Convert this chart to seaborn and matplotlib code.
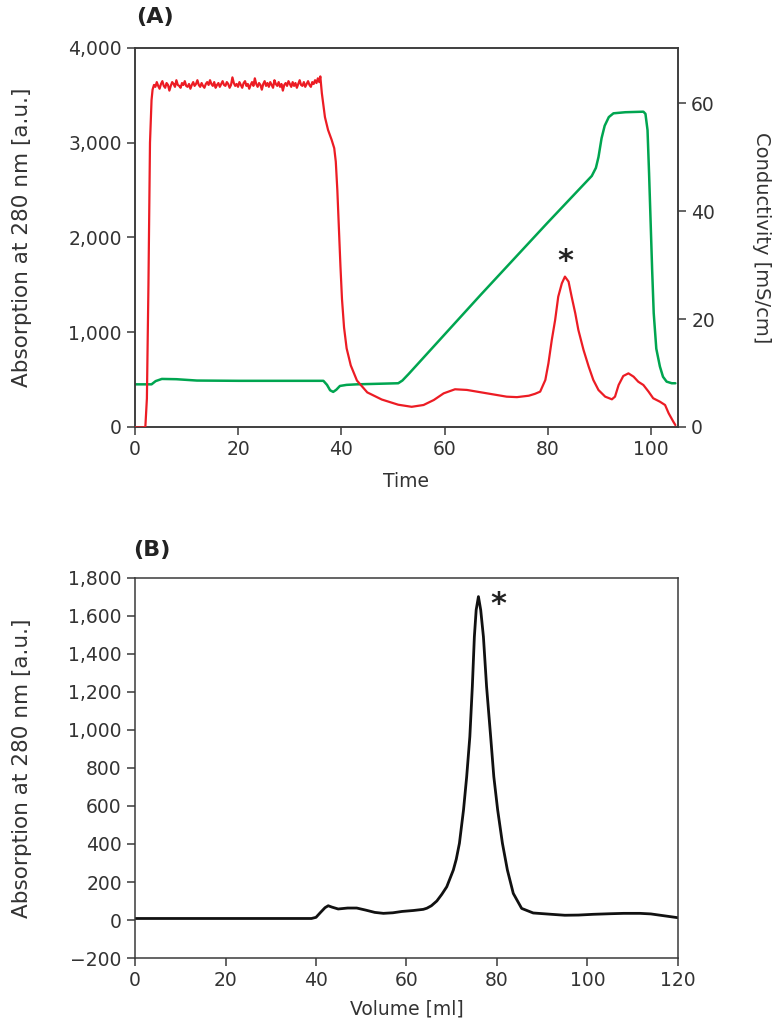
import numpy as np
import pandas as pd
import matplotlib
matplotlib.use("Agg")
import matplotlib.pyplot as plt
import seaborn as sns

# ---------------- Data: panel A ----------------
# Absorption at 280 nm (red)
abs_time_start = [0.0, 1.5, 2.0, 2.3, 2.6, 2.9, 3.2]
abs_val_start = [-5, -5, 0, 300, 1500, 3000, 3450]

plateau_abs = [
    3560, 3610, 3590, 3640, 3600, 3570, 3620, 3650, 3600, 3580,
    3630, 3610, 3550, 3600, 3640, 3620, 3590, 3660, 3610, 3600,
    3580, 3630, 3610, 3650, 3600, 3590, 3620, 3570, 3610, 3640,
    3600, 3620, 3660, 3610, 3590, 3630, 3600, 3580, 3620, 3640,
    3610, 3660, 3620, 3600, 3640, 3580, 3610, 3630, 3590, 3620,
    3650, 3610, 3600, 3640, 3620, 3580, 3610, 3690, 3630, 3600,
    3620, 3590, 3640, 3610, 3580, 3630, 3650, 3600, 3620, 3570,
    3610, 3640, 3600, 3680, 3620, 3590, 3630, 3610, 3560, 3620,
    3650, 3600, 3630, 3590, 3640, 3610, 3580, 3660, 3620, 3600,
    3640, 3590, 3620, 3550, 3610, 3630, 3600, 3650, 3620, 3590,
    3640, 3600, 3630, 3580, 3620, 3660, 3610, 3600, 3640, 3590,
    3620, 3650, 3610, 3590, 3640, 3620, 3660, 3630, 3680, 3640,
]

abs_time_end = [
    35.9, 36.2, 36.8, 37.4, 38.1, 38.6, 38.9, 39.2, 39.5, 39.8,
    40.1, 40.5, 41.0, 41.8, 43.0, 45.0, 47.8, 51.0, 53.6, 55.9,
    57.9, 59.8, 62.0, 64.3, 68.2, 72.0, 74.0, 76.3, 77.5, 78.5,
    79.5, 80.1, 80.75, 81.4, 82.0, 82.7, 83.3, 84.0, 84.6, 85.3,
    85.9, 86.9, 87.9, 88.8, 89.8, 91.1, 92.4, 93.0, 93.7, 94.6,
    95.6, 96.6, 97.5, 98.5, 99.5, 100.4, 101.7, 102.7, 103.4, 104.3,
    104.7,
]
abs_val_end = [
    3700, 3522, 3270, 3135, 3030, 2942, 2800, 2500, 2100, 1700,
    1350, 1050, 830, 650, 490, 365, 290, 235, 213, 232,
    285, 355, 398, 391, 355, 320, 315, 330, 350, 373,
    496, 672, 918, 1129, 1375, 1516, 1587, 1534, 1375, 1200,
    1024, 813, 637, 496, 390, 320, 292, 320, 443, 538,
    566, 531, 478, 443, 373, 303, 267, 232, 144, 56,
    20,
]

# Conductivity (green)
cond_time = [
    0.0, 3.2, 4.0, 5.2, 8.0, 12.0, 20.0, 30.0, 36.5, 37.2,
    37.8, 38.4, 39.0, 39.7, 41.0, 43.0, 47.0, 51.0, 51.8, 53.0,
    66.9, 79.8, 88.5, 89.3, 89.8, 90.4, 91.0, 91.8, 92.7, 95.0,
    98.5, 98.9, 99.3, 99.6, 99.9, 100.2, 100.5, 101.0, 101.7, 102.3,
    103.0, 104.0, 104.7,
]
cond_val = [
    7.9, 7.9, 8.5, 8.9, 8.85, 8.6, 8.55, 8.55, 8.55, 7.8,
    6.8, 6.5, 6.9, 7.6, 7.8, 7.9, 8.0, 8.1, 8.6, 9.8,
    24.4, 37.7, 46.5, 48.0, 50.0, 53.5, 55.8, 57.4, 58.1, 58.3,
    58.4, 58.0, 55.0, 47.0, 38.0, 29.0, 21.1, 14.5, 11.2, 9.3,
    8.4, 8.1, 8.1,
]

# ---------------- Data: panel B ----------------
vol_ml = [
    0.0, 39.0, 40.0, 41.0, 42.0, 42.7, 43.5, 44.9, 47.0, 49.0,
    51.0, 53.0, 54.9, 57.0, 59.0, 61.5, 63.7, 64.5, 65.5, 66.7,
    67.8, 68.9, 70.35, 71.0, 71.7, 72.6, 73.3, 74.0, 74.55, 75.0,
    75.4, 75.9, 76.4, 77.0, 77.7, 78.6, 79.3, 80.15, 81.2, 82.3,
    83.6, 85.45, 88.0, 92.0, 95.0, 98.0, 101.3, 105.0, 108.0, 111.6,
    114.0, 117.0, 120.0,
]
vol_abs = [
    8, 8, 14, 40, 65, 75, 68, 58, 63, 63,
    52, 40, 35, 38, 45, 50, 56, 62, 75, 100,
    135, 175, 263, 320, 404, 579, 754, 965, 1228, 1491,
    1632, 1702, 1632, 1491, 1228, 965, 754, 579, 404, 263,
    140, 61, 37, 30, 25, 26, 30, 33, 35, 35,
    32, 22, 12,
]

ticks_a_x = [0, 20, 40, 60, 80, 100]
ticks_a_y = [0, 1000, 2000, 3000, 4000]
ticks_a_y2 = [0, 20, 40, 60]
ticks_b_x = [0, 20, 40, 60, 80, 100, 120]
ticks_b_y = [-200, 0, 200, 400, 600, 800, 1000, 1200, 1400, 1600, 1800]

# ---------------- Styling ----------------
sns.set_theme(style="ticks")
plt.rcParams["font.family"] = ["DejaVu Sans"]
TXT = "#333333"
plt.rcParams.update({
    "axes.edgecolor": "#3a3a3a",
    "axes.linewidth": 1.1,
    "xtick.color": "#3a3a3a",
    "ytick.color": "#3a3a3a",
    "xtick.labelcolor": TXT,
    "ytick.labelcolor": TXT,
    "xtick.major.size": 6,
    "ytick.major.size": 6,
    "xtick.major.width": 1.1,
    "ytick.major.width": 1.1,
    "xtick.labelsize": 13.5,
    "ytick.labelsize": 13.5,
    "axes.labelsize": 13.5,
    "axes.labelcolor": TXT,
})

RED = "#ec1c24"
GREEN = "#00a550"

fig = plt.figure(figsize=(7.72, 10.21), dpi=100)

# ---------- Panel A ----------
axA = fig.add_axes([0.1749, 0.5818, 0.7033, 0.3712])
axA2 = axA.twinx()

abs_time = abs_time_start + list(np.linspace(3.4, 35.7, len(plateau_abs))) + abs_time_end
abs_vals = abs_val_start + plateau_abs + abs_val_end
dfA = pd.DataFrame({"time": abs_time, "abs": abs_vals})
dfC = pd.DataFrame({"time": cond_time, "cond": cond_val})

sns.lineplot(data=dfA, x="time", y="abs", ax=axA, color=RED, linewidth=1.6,
             estimator=None, sort=False, zorder=3)
sns.lineplot(data=dfC, x="time", y="cond", ax=axA2, color=GREEN, linewidth=1.8,
             estimator=None, sort=False)
axA.set_zorder(axA2.get_zorder() + 1)
axA.patch.set_visible(False)

axA.set_xlim(0, 105.2)
axA.set_ylim(0, 4000)
axA2.set_ylim(0, 70.2)
axA.set_xticks(ticks_a_x)
axA.set_yticks(ticks_a_y)
axA.set_yticklabels([f"{v:,}" for v in ticks_a_y])
axA2.set_yticks(ticks_a_y2)
axA.set_xlabel("Time", labelpad=9)
axA.set_ylabel("Absorption at 280 nm [a.u.]", labelpad=26, fontsize=15.5)
axA2.set_ylabel("Conductivity [mS/cm]", rotation=270, labelpad=40, fontsize=14)
for s in axA2.spines.values():
    s.set_visible(True)
axA.text(83.3, 1745, "*", ha="center", va="center", fontsize=22,
         fontweight="bold", color="#222222")

fig.text(0.176, 0.983, "(A)", fontsize=16, fontweight="bold", color="#222222",
         ha="left", va="center")

# ---------- Panel B ----------
axB = fig.add_axes([0.1749, 0.0617, 0.7033, 0.3722])
dfB = pd.DataFrame({"volume": vol_ml, "abs": vol_abs})
sns.lineplot(data=dfB, x="volume", y="abs", ax=axB, color="#111111", linewidth=2.0,
             estimator=None, sort=False)
axB.set_xlim(0, 120)
axB.set_ylim(-200, 1800)
axB.set_xticks(ticks_b_x)
axB.set_yticks(ticks_b_y)
axB.set_yticklabels([f"{v:,}".replace("-", "\u2212") for v in ticks_b_y])
axB.set_xlabel("Volume [ml]", labelpad=7)
axB.set_ylabel("Absorption at 280 nm [a.u.]", labelpad=26, fontsize=15.5)
for s in axB.spines.values():
    s.set_visible(True)
axB.text(80.4, 1660, "*", ha="center", va="center", fontsize=22,
         fontweight="bold", color="#222222")

fig.text(0.173, 0.461, "(B)", fontsize=16, fontweight="bold", color="#222222",
         ha="left", va="center")

fig.savefig("out.png", dpi=100)
